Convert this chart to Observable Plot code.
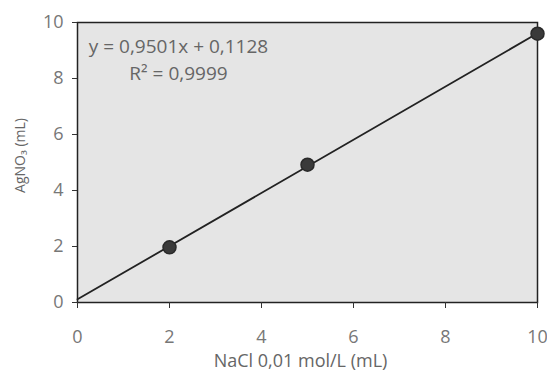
<!DOCTYPE html>
<html>
<head>
<meta charset="utf-8">
<script src="https://cdn.jsdelivr.net/npm/d3@7"></script>
<script src="https://cdn.jsdelivr.net/npm/@observablehq/plot@0.6"></script>
<style>
  html, body { margin: 0; padding: 0; background: #fff; }
</style>
</head>
<body>
<div id="chart"></div>
<script>
const naclML = [2, 5, 10];
const agno3ML = [1.97, 4.92, 9.6];
const trendX = [0, 10];
const trendY = [0.1128, 9.6138];
const xTicks = [0, 2, 4, 6, 8, 10];
const yTicks = [0, 2, 4, 6, 8, 10];
const equationLines = ["y = 0,9501x + 0,1128", "R² = 0,9999"];
const xLabel = "NaCl 0,01 mol/L (mL)";
const yLabel = "AgNO₃ (mL)";

const points = naclML.map((x, i) => ({x, y: agno3ML[i]}));
const trend = trendX.map((x, i) => ({x, y: trendY[i]}));

const chart = Plot.plot({
  width: 547,
  height: 372,
  marginLeft: 77,
  marginRight: 10,
  marginTop: 22,
  marginBottom: 70,
  style: {fontFamily: "'Open Sans', sans-serif", fontSize: "18px", color: "#666", background: "#fff"},
  x: {domain: [0, 10]},
  y: {domain: [0, 10]},
  marks: [
    Plot.frame({fill: "#e5e5e5", stroke: "#222", strokeWidth: 1.5}),
    Plot.axisX({ticks: xTicks, tickSize: 6, tickPadding: 22, stroke: "#333", fill: "#777", fontSize: 18, label: null}),
    Plot.axisY({ticks: yTicks, tickSize: 5, tickPadding: 9, stroke: "#333", fill: "#777", fontSize: 18, label: null}),
    Plot.text([xLabel], {frameAnchor: "bottom", dx: -7, dy: 64, textAnchor: "middle", text: d => d, fill: "#666", fontSize: 18}),
    Plot.text([yLabel], {frameAnchor: "left", dx: -57, dy: -7, rotate: -90, textAnchor: "middle", text: d => d, fill: "#666", fontSize: 14}),
    Plot.line(trend, {x: "x", y: "y", stroke: "#222", strokeWidth: 1.8}),
    Plot.dot(points, {x: "x", y: "y", r: 6.5, fill: "#3a3a3a", stroke: "#2a2a2a"}),
    Plot.text([equationLines.join("\n")], {frameAnchor: "top-left", dx: 101, dy: 12, lineHeight: 1.4,
      text: d => d, fill: "#666", fontSize: 19, textAnchor: "middle"})
  ]
});
document.getElementById("chart").appendChild(chart);
</script>
</body>
</html>
